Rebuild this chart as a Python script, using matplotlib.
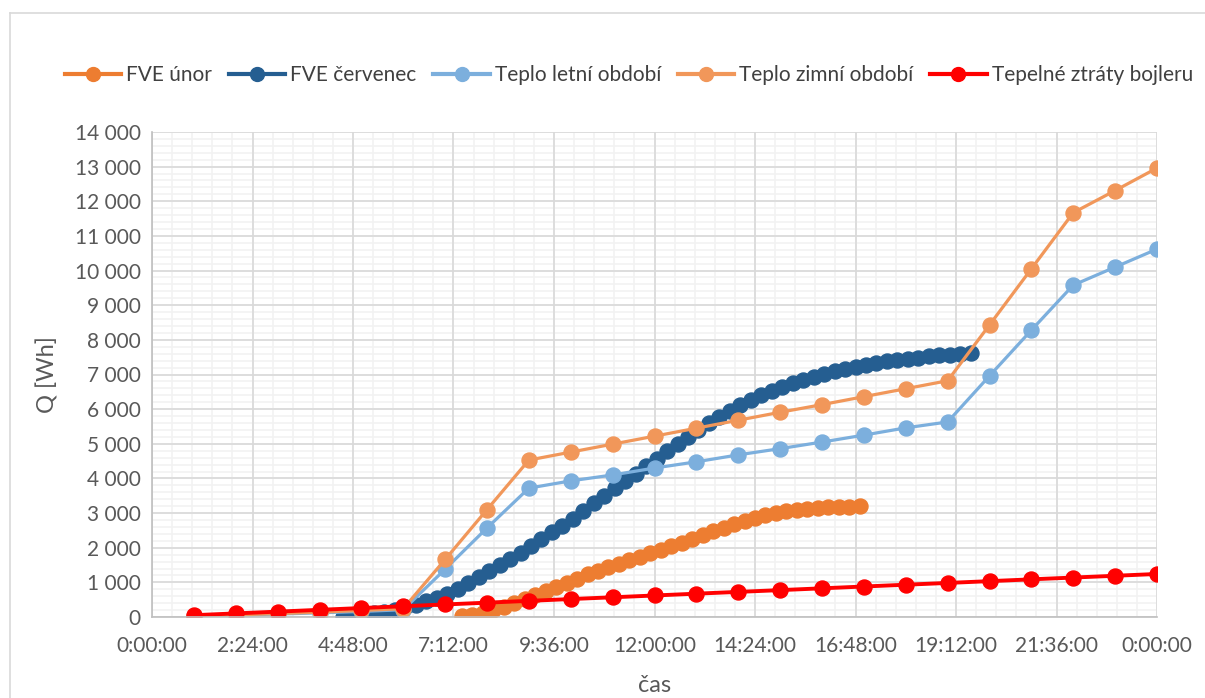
import numpy as np
import matplotlib
matplotlib.use("Agg")
import matplotlib.pyplot as plt
from matplotlib.ticker import MultipleLocator, FuncFormatter
from matplotlib.lines import Line2D

plt.rcParams['font.family'] = ['Lato', 'DejaVu Sans']

# hourly series (time in hours)
hours = [1, 2, 3, 4, 5, 6, 7, 8, 9, 10, 11, 12,
         13, 14, 15, 16, 17, 18, 19, 20, 21, 22, 23, 24]
teplo_letni = [20, 50, 85, 120, 160, 210, 1380, 2570, 3720, 3930, 4100, 4300,
               4480, 4680, 4860, 5050, 5250, 5460, 5630, 6960, 8280, 9580, 10100, 10620]
teplo_zimni = [25, 60, 100, 140, 190, 240, 1660, 3100, 4530, 4760, 4990, 5220,
               5450, 5680, 5910, 6130, 6360, 6590, 6820, 8430, 10050, 11670, 12310, 12960]
ztraty = [52, 104, 155, 207, 259, 311, 362, 414, 466, 518, 569, 621,
          673, 725, 776, 828, 880, 932, 983, 1035, 1087, 1139, 1190, 1242]

# PV production, 15 min samples
cervenec_start = 4.55
cervenec = [0, 30, 65, 105, 150, 205, 280, 360, 450, 550, 665, 810, 980, 1150, 1330,
            1500, 1680, 1850, 2040, 2240, 2440, 2640, 2840, 3050, 3280, 3500, 3710,
            3930, 4140, 4360, 4570, 4790, 5000, 5210, 5410, 5600, 5780, 5950, 6110,
            6260, 6400, 6530, 6640, 6750, 6850, 6940, 7020, 7090, 7160, 7220, 7280,
            7330, 7380, 7420, 7460, 7490, 7520, 7550, 7570, 7590, 7610]
unor_start = 7.40
unor = [20, 60, 120, 200, 290, 390, 510, 630, 750, 870, 990, 1110, 1230, 1340,
        1440, 1540, 1640, 1740, 1840, 1940, 2040, 2150, 2250, 2360, 2470, 2580,
        2680, 2770, 2860, 2940, 3010, 3060, 3100, 3130, 3150, 3170, 3180, 3185, 3190]
step = 0.25

xtick_labels = ['0:00:00', '2:24:00', '4:48:00', '7:12:00', '9:36:00', '12:00:00',
                '14:24:00', '16:48:00', '19:12:00', '21:36:00', '0:00:00']

c_unor = '#ED7D31'
c_cerv = '#255E91'
c_letni = '#7CAFDD'
c_zimni = '#F1975A'
c_ztraty = '#FF0000'

fig = plt.figure(figsize=(12.05, 6.98), dpi=100)
ax = fig.add_axes([152/1205, 1 - 617/698, 1005/1205, 485/698])

t_unor = unor_start + step*np.arange(len(unor))
t_cerv = cervenec_start + step*np.arange(len(cervenec))

ms = 10.8
lw = 2.3
ax.plot(t_unor, unor, '-o', color=c_unor, ms=ms, lw=lw, label='FVE únor')
ax.plot(t_cerv, cervenec, '-o', color=c_cerv, ms=ms, lw=lw, label='FVE červenec')
ax.plot(hours, teplo_letni, '-o', color=c_letni, ms=ms, lw=lw, label='Teplo letní období')
ax.plot(hours, teplo_zimni, '-o', color=c_zimni, ms=ms, lw=lw, label='Teplo zimní období')
ax.plot(hours, ztraty, '-o', color=c_ztraty, ms=ms, lw=2.8, label='Tepelné ztráty bojleru')

ax.set_xlim(0, 24)
ax.set_ylim(0, 14000)
ax.set_xticks(np.linspace(0, 24, len(xtick_labels)))
ax.set_xticklabels(xtick_labels)
ax.yaxis.set_major_locator(MultipleLocator(1000))
ax.yaxis.set_major_formatter(FuncFormatter(lambda v, p: f'{int(v):,}'.replace(',', ' ')))

# grid: light minor lines first, major lines above them, all below the data
for x in np.arange(0, 24.01, 0.48):
    ax.axvline(x, color='#F2F2F2', lw=1.2, zorder=0.5)
for y in np.arange(0, 14001, 200):
    ax.axhline(y, color='#F2F2F2', lw=1.2, zorder=0.5)
for x in np.arange(0, 24.01, 2.4):
    ax.axvline(x, color='#D9D9D9', lw=1.2, zorder=0.6)
for y in np.arange(0, 14001, 1000):
    ax.axhline(y, color='#D9D9D9', lw=1.2, zorder=0.6)

for s in ['top', 'right']:
    ax.spines[s].set_visible(False)
for s in ['left', 'bottom']:
    ax.spines[s].set_color('#BFBFBF')
    ax.spines[s].set_linewidth(1.2)
ax.tick_params(which='both', length=0, labelsize=15, labelcolor='#595959')
ax.tick_params(axis='x', pad=14)
ax.tick_params(axis='y', pad=8)

ax.set_xlabel('čas', fontsize=17, color='#595959', labelpad=13)
ax.set_ylabel('Q [Wh]', fontsize=17, color='#595959', labelpad=12)

handles = [Line2D([], [], color=c, marker='o', ms=10, lw=3)
           for c in [c_unor, c_cerv, c_letni, c_zimni, c_ztraty]]
labels = ['FVE únor', 'FVE červenec', 'Teplo letní období', 'Teplo zimní období',
          'Tepelné ztráty bojleru']
fig.legend(handles, labels, loc='center', bbox_to_anchor=(0.522, 1 - 75/698), ncol=5,
           frameon=False, fontsize=15, handlelength=2.7, handletextpad=0.25,
           columnspacing=0.8, labelcolor='#404040')

# chart area border
fig.add_artist(Line2D([10/1205, 10/1205], [0, 1 - 13/698], transform=fig.transFigure,
                      color='#D9D9D9', lw=1.2))
fig.add_artist(Line2D([10/1205, 1], [1 - 13/698, 1 - 13/698], transform=fig.transFigure,
                      color='#D9D9D9', lw=1.2))

fig.savefig('out.png', dpi=100)
